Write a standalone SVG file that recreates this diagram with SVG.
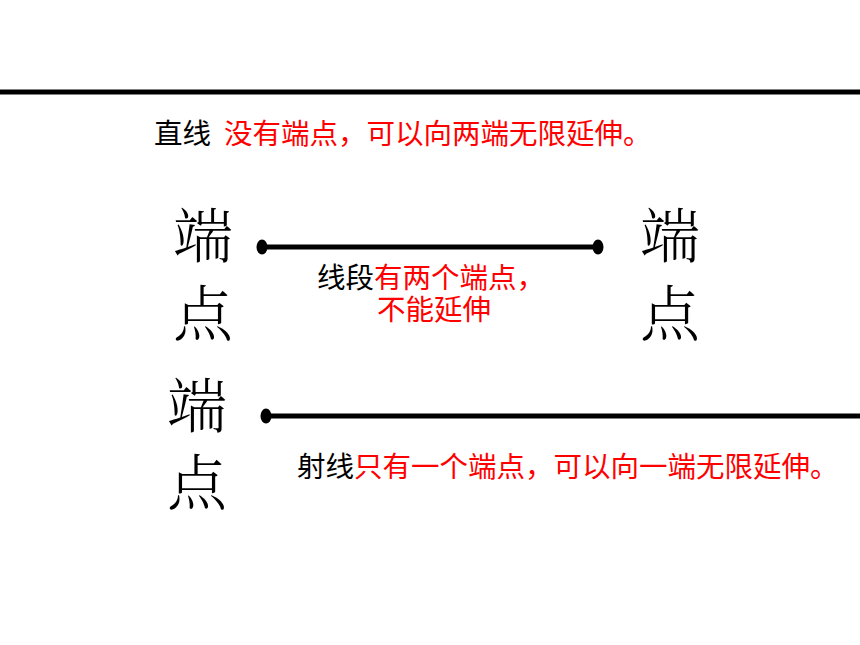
<svg xmlns="http://www.w3.org/2000/svg" width="860" height="645" viewBox="0 0 860 645">
<style>
.t{font-family:"Noto Sans CJK SC","Noto Sans CJK JP",sans-serif;font-size:28.5px;fill:#000}
.r{fill:#ff0000}
.big{font-family:"Noto Serif CJK SC","Noto Serif CJK JP","AR PL UMing CN","Noto Sans CJK SC",serif;font-size:60px;font-weight:300;fill:#000;text-anchor:middle}
.ln{stroke:#000;stroke-width:5;fill:none}
</style>
<rect width="860" height="645" fill="#fff"/>
<g id="connectors">
<line class="ln" x1="0" y1="92" x2="860" y2="92"/>
<line class="ln" x1="262" y1="247" x2="598" y2="247"/>
<line class="ln" x1="266" y1="416" x2="860" y2="416"/>
</g>
<g id="line-label">
<text class="t" x="154" y="144">直线<tspan class="r" x="224">没有端点，可以向两端无限延伸。</tspan></text>
</g>
<g id="segment">
<ellipse cx="262" cy="247" rx="5.5" ry="7.5"/>
<ellipse cx="598" cy="247" rx="5.5" ry="7.5"/>
<text class="t" x="317" y="288">线段<tspan class="r">有两个端点，</tspan></text>
<text class="t r" x="377" y="320">不能延伸</text>
</g>
<g id="endpoint-left-1"><text class="big" x="203" y="258">端</text><text class="big" x="203" y="336">点</text></g>
<g id="endpoint-right-1"><text class="big" x="670" y="258">端</text><text class="big" x="670" y="336">点</text></g>
<g id="ray">
<ellipse cx="266" cy="416" rx="5.5" ry="7.5"/>
<text class="t" x="297" y="477">射线<tspan class="r">只有一个端点，可以向一端无限延伸。</tspan></text>
</g>
<g id="endpoint-left-2"><text class="big" x="197" y="428">端</text><text class="big" x="197" y="505">点</text></g>
</svg>
